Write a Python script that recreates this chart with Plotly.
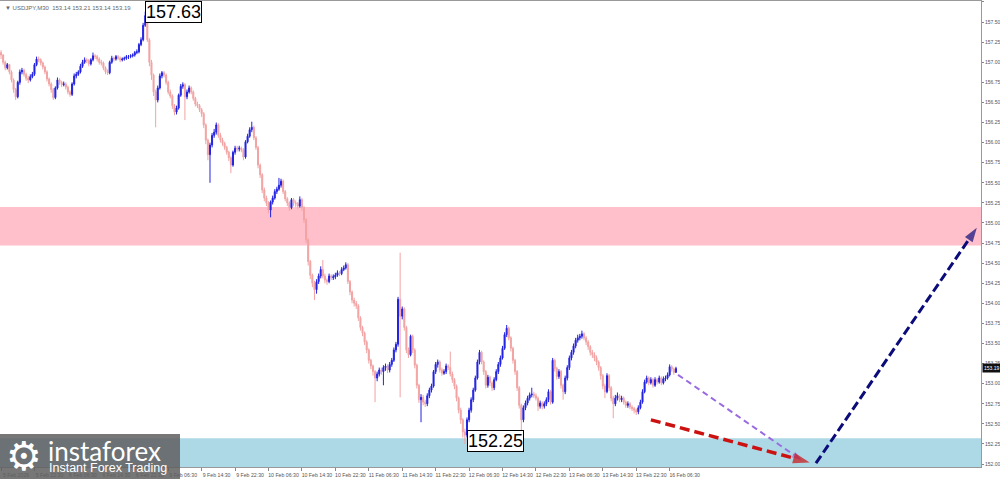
import plotly.graph_objects as go

# ---- data (USDJPY M30) ----
first_open = 157.12
close = [
    157.09, 157.00, 156.93, 156.97, 156.88, 156.78, 156.66, 156.57, 156.75, 156.88,
    156.90, 156.85, 156.80, 156.78, 156.82, 156.85, 156.97, 157.04, 157.03, 156.99,
    156.94, 156.88, 156.79, 156.73, 156.66, 156.56, 156.68, 156.78, 156.75, 156.72,
    156.73, 156.69, 156.63, 156.60, 156.73, 156.83, 156.85, 156.88, 156.95, 157.00,
    157.03, 157.02, 156.98, 157.03, 157.08, 157.07, 157.04, 157.00, 156.99, 156.93,
    156.88, 156.87, 157.00, 157.05, 157.04, 157.07, 157.05, 157.03, 157.04, 157.05,
    157.07, 157.07, 157.08, 157.09, 157.12, 157.13, 157.22, 157.28, 157.46, 157.58,
    157.28, 157.00, 156.84, 156.63, 156.53, 156.68, 156.83, 156.87, 156.84, 156.75,
    156.63, 156.58, 156.46, 156.38, 156.43, 156.59, 156.70, 156.72, 156.57, 156.63,
    156.68, 156.63, 156.55, 156.48, 156.46, 156.41, 156.36, 156.22, 156.03, 155.85,
    155.97, 156.09, 156.13, 156.22, 156.09, 156.03, 155.99, 155.94, 155.88, 155.81,
    155.72, 155.88, 155.93, 155.92, 155.93, 155.91, 155.82, 156.01, 156.08, 156.16,
    156.19, 156.06, 155.94, 155.72, 155.60, 155.41, 155.31, 155.25, 155.16, 155.26,
    155.31, 155.39, 155.42, 155.47, 155.52, 155.39, 155.30, 155.25, 155.19, 155.29,
    155.25, 155.24, 155.21, 155.29, 155.19, 155.04, 154.79, 154.52, 154.35, 154.25,
    154.17, 154.27, 154.34, 154.42, 154.34, 154.29, 154.27, 154.34, 154.32, 154.33,
    154.35, 154.38, 154.37, 154.42, 154.44, 154.48, 154.27, 154.14, 154.04, 154.00,
    153.97, 153.82, 153.70, 153.63, 153.52, 153.42, 153.29, 153.22, 153.15, 153.07,
    153.12, 153.17, 153.15, 153.20, 153.22, 153.17, 153.24, 153.29, 153.42, 153.49,
    154.05, 153.84, 153.93, 153.70, 153.42, 153.36, 153.59, 153.42, 153.23, 152.98,
    152.80, 152.83, 152.77, 152.75, 152.85, 152.92, 152.97, 153.15, 153.24, 153.27,
    153.17, 153.13, 153.15, 153.22, 153.20, 153.12, 153.05, 152.97, 152.82, 152.67,
    152.55, 152.40, 152.36, 152.55, 152.67, 152.80, 152.92, 153.07, 153.27, 153.39,
    153.27, 153.15, 152.98, 153.08, 153.01, 152.95, 153.05, 153.15, 153.24, 153.32,
    153.44, 153.61, 153.69, 153.57, 153.44, 153.29, 153.15, 152.95, 152.73, 152.55,
    152.70, 152.76, 152.82, 152.86, 152.87, 152.85, 152.82, 152.72, 152.76, 152.72,
    152.75, 152.80, 152.90, 152.77, 153.29, 153.19, 153.09, 153.15, 152.98, 152.90,
    153.07, 153.20, 153.32, 153.39, 153.47, 153.54, 153.57, 153.59, 153.62, 153.57,
    153.52, 153.46, 153.39, 153.36, 153.32, 153.27, 153.20, 153.10, 152.97, 152.90,
    153.10, 152.95, 152.82, 152.75, 152.82, 152.85, 152.80, 152.82, 152.77, 152.73,
    152.75, 152.71, 152.69, 152.67, 152.65, 152.70, 152.77, 152.90, 153.02, 153.07,
    153.01, 153.05, 152.98, 153.05, 153.02, 153.07, 153.01, 153.06, 153.07, 153.11,
    153.21, 153.18, 153.14, 153.19,
]
high = [
    157.15, 157.10, 157.02, 156.99, 156.98, 156.90, 156.80, 156.68, 156.77, 156.91,
    156.93, 156.92, 156.87, 156.83, 156.85, 156.88, 156.99, 157.07, 157.07, 157.05,
    157.01, 156.96, 156.90, 156.81, 156.75, 156.68, 156.70, 156.81, 156.80, 156.77,
    156.76, 156.75, 156.71, 156.65, 156.75, 156.86, 156.88, 156.90, 156.98, 157.03,
    157.06, 157.05, 157.04, 157.05, 157.12, 157.10, 157.09, 157.06, 157.03, 157.01,
    156.95, 156.91, 157.02, 157.08, 157.07, 157.09, 157.09, 157.07, 157.06, 157.07,
    157.09, 157.09, 157.10, 157.11, 157.14, 157.16, 157.24, 157.31, 157.49, 157.63,
    157.60, 157.30, 157.03, 156.86, 156.66, 156.71, 156.86, 156.89, 156.89, 156.86,
    156.77, 156.66, 156.60, 156.48, 156.46, 156.61, 156.73, 156.75, 156.74, 156.66,
    156.71, 156.70, 156.65, 156.57, 156.51, 156.48, 156.43, 156.38, 156.24, 156.05,
    156.00, 156.12, 156.17, 156.25, 156.24, 156.12, 156.06, 156.01, 155.96, 155.90,
    155.83, 155.90, 155.96, 155.96, 155.96, 155.95, 155.93, 156.03, 156.11, 156.19,
    156.26, 156.21, 156.08, 155.96, 155.74, 155.62, 155.44, 155.34, 155.27, 155.28,
    155.34, 155.42, 155.45, 155.56, 155.55, 155.54, 155.41, 155.32, 155.27, 155.31,
    155.31, 155.28, 155.26, 155.33, 155.31, 155.21, 155.06, 154.81, 154.54, 154.37,
    154.28, 154.30, 154.37, 154.46, 154.54, 154.37, 154.31, 154.37, 154.36, 154.36,
    154.38, 154.41, 154.40, 154.45, 154.47, 154.51, 154.50, 154.29, 154.16, 154.07,
    154.03, 153.99, 153.84, 153.72, 153.65, 153.54, 153.44, 153.31, 153.24, 153.17,
    153.15, 153.20, 153.20, 153.23, 153.25, 153.24, 153.27, 153.32, 153.45, 153.52,
    154.08, 154.63, 153.96, 153.95, 153.72, 153.45, 153.61, 153.61, 153.44, 153.25,
    153.00, 152.87, 152.86, 152.80, 152.88, 152.95, 153.00, 153.17, 153.27, 153.30,
    153.29, 153.20, 153.18, 153.25, 153.24, 153.40, 153.15, 153.07, 152.99, 152.84,
    152.70, 152.57, 152.44, 152.58, 152.70, 152.83, 152.95, 153.10, 153.30, 153.42,
    153.41, 153.29, 153.17, 153.11, 153.10, 153.03, 153.08, 153.18, 153.27, 153.35,
    153.47, 153.64, 153.73, 153.71, 153.59, 153.46, 153.31, 153.17, 152.97, 152.75,
    152.73, 152.79, 152.85, 152.89, 152.95, 152.90, 152.88, 152.84, 152.79, 152.78,
    152.78, 152.83, 152.93, 152.92, 153.32, 153.31, 153.21, 153.18, 153.17, 153.00,
    153.10, 153.23, 153.35, 153.42, 153.50, 153.57, 153.61, 153.62, 153.66, 153.64,
    153.59, 153.54, 153.48, 153.42, 153.39, 153.35, 153.29, 153.22, 153.12, 153.00,
    153.13, 153.12, 152.97, 152.85, 152.86, 152.89, 152.87, 152.85, 152.84, 152.79,
    152.78, 152.77, 152.73, 152.71, 152.69, 152.73, 152.80, 152.93, 153.05, 153.10,
    153.09, 153.08, 153.07, 153.08, 153.07, 153.10, 153.09, 153.09, 153.10, 153.14,
    153.24, 153.23, 153.20, 153.21,
]
low = [
    157.04, 156.97, 156.90, 156.91, 156.85, 156.75, 156.62, 156.53, 156.55, 156.72,
    156.85, 156.82, 156.77, 156.74, 156.76, 156.80, 156.83, 156.95, 157.00, 156.96,
    156.91, 156.85, 156.76, 156.70, 156.62, 156.53, 156.54, 156.66, 156.72, 156.69,
    156.70, 156.66, 156.60, 156.57, 156.58, 156.71, 156.80, 156.83, 156.86, 156.93,
    156.98, 156.99, 156.95, 156.96, 157.01, 157.04, 157.01, 156.97, 156.96, 156.90,
    156.85, 156.84, 156.85, 156.98, 157.01, 157.02, 157.03, 157.00, 157.01, 157.02,
    157.03, 157.04, 157.05, 157.06, 157.07, 157.10, 157.11, 157.20, 157.26, 157.44,
    157.25, 156.95, 156.78, 156.58, 156.19, 156.50, 156.66, 156.80, 156.81, 156.72,
    156.60, 156.55, 156.42, 156.34, 156.35, 156.41, 156.57, 156.67, 156.28, 156.54,
    156.61, 156.60, 156.52, 156.45, 156.43, 156.38, 156.32, 156.18, 155.98, 155.78,
    155.50, 155.94, 156.06, 156.10, 156.06, 156.00, 155.96, 155.91, 155.85, 155.77,
    155.62, 155.70, 155.85, 155.89, 155.89, 155.88, 155.78, 155.80, 155.99, 156.06,
    156.13, 156.03, 155.91, 155.68, 155.56, 155.37, 155.27, 155.21, 155.12, 155.07,
    155.23, 155.29, 155.36, 155.40, 155.44, 155.36, 155.27, 155.21, 155.15, 155.17,
    155.21, 155.20, 155.17, 155.19, 155.15, 155.00, 154.75, 154.47, 154.30, 154.20,
    154.04, 154.12, 154.24, 154.31, 154.31, 154.25, 154.23, 154.25, 154.29, 154.29,
    154.30, 154.33, 154.34, 154.35, 154.40, 154.42, 154.24, 154.10, 154.00, 153.96,
    153.93, 153.78, 153.66, 153.59, 153.48, 153.38, 153.25, 153.18, 153.10, 152.77,
    153.03, 153.09, 153.11, 152.98, 153.16, 153.13, 153.14, 153.21, 153.27, 153.39,
    153.46, 152.83, 153.80, 153.66, 153.38, 153.32, 153.34, 153.38, 153.19, 152.94,
    152.76, 152.52, 152.73, 152.71, 152.72, 152.82, 152.89, 152.95, 153.12, 153.20,
    153.14, 153.10, 153.11, 153.12, 153.17, 153.09, 153.01, 152.93, 152.78, 152.63,
    152.50, 152.33, 152.25, 152.33, 152.52, 152.64, 152.77, 152.90, 153.05, 153.24,
    153.24, 153.11, 152.94, 152.95, 152.97, 152.91, 152.92, 153.03, 153.12, 153.21,
    153.30, 153.42, 153.58, 153.54, 153.40, 153.25, 153.11, 152.91, 152.69, 152.42,
    152.52, 152.67, 152.73, 152.79, 152.83, 152.82, 152.79, 152.66, 152.69, 152.68,
    152.69, 152.72, 152.77, 152.74, 152.75, 153.15, 153.05, 153.06, 152.94, 152.80,
    152.87, 153.04, 153.17, 153.29, 153.36, 153.44, 153.51, 153.54, 153.56, 153.54,
    153.48, 153.42, 153.35, 153.32, 153.28, 153.23, 153.16, 153.05, 152.93, 152.82,
    152.88, 152.91, 152.78, 152.57, 152.72, 152.79, 152.77, 152.77, 152.74, 152.70,
    152.70, 152.68, 152.66, 152.63, 152.61, 152.62, 152.68, 152.75, 152.88, 153.00,
    152.98, 152.99, 152.95, 152.96, 152.99, 153.00, 152.98, 152.99, 153.03, 153.05,
    153.09, 153.15, 153.11, 153.14,
]
open_ = [first_open] + close[:-1]
bars = list(range(len(close)))

time_labels = [
    "5 Feb 2026", "5 Feb 22:30", "6 Feb 06:30", "6 Feb 14:30", "6 Feb 22:30",
    "9 Feb 06:30", "9 Feb 14:30", "9 Feb 22:30", "10 Feb 06:30", "10 Feb 14:30",
    "10 Feb 22:30", "11 Feb 06:30", "11 Feb 14:30", "11 Feb 22:30", "12 Feb 06:30",
    "12 Feb 14:30", "12 Feb 22:30", "13 Feb 06:30", "13 Feb 14:30", "13 Feb 22:30",
    "16 Feb 06:30",
]
bars_per_label = 16

# zones and forecast paths
resistance_zone = (154.72, 155.20)
support_zone = (151.90, 152.32)
alt_path_x, alt_path_y = [324, 383], [153.11, 152.05]
main_down_x, main_down_y = [311, 387], [152.55, 152.02]
main_up_x, main_up_y = [390, 467], [152.01, 154.94]

y_lo, y_hi = 151.963, 157.762
x_lo, x_hi = -0.5, 469

fig = go.Figure()

fig.add_shape(type="rect", xref="paper", x0=0, x1=1, y0=resistance_zone[0], y1=resistance_zone[1],
              fillcolor="#ffc0cb", line_width=0, layer="below")
fig.add_shape(type="rect", xref="paper", x0=0, x1=1, y0=support_zone[0], y1=support_zone[1],
              fillcolor="#add8e6", line_width=0, layer="below")

fig.add_trace(go.Candlestick(
    x=bars, open=open_, high=high, low=low, close=close,
    increasing=dict(line=dict(color="#2323e0", width=1), fillcolor="#2323e0"),
    decreasing=dict(line=dict(color="#f2a3a3", width=1), fillcolor="#f2a3a3"),
    whiskerwidth=0, showlegend=False, hoverinfo="skip",
))

def forecast(xs, ys, color, width, dash):
    fig.add_trace(go.Scatter(
        x=xs, y=ys, mode="lines+markers",
        line=dict(color=color, width=width, dash=dash),
        marker=dict(symbol=["circle", "arrow"], size=[0, 5 * width], color=color, angleref="previous",
                    line_width=0),
        showlegend=False, hoverinfo="skip", cliponaxis=False,
    ))

forecast(alt_path_x, alt_path_y, "#9a6be0", 2, "6px,4px")
forecast(main_down_x, main_down_y, "#cc1111", 3.5, "10px,5px")
forecast(main_up_x, main_up_y, "#0b0b7a", 3, "9px,4px")

# extreme labels
i_hi = high.index(max(high))
i_lo = low.index(min(low))
box_font = dict(family="Liberation Sans, Arial", size=18, color="black")
fig.add_annotation(x=i_hi, y=max(high), text=f"{max(high):.2f}", showarrow=False, xanchor="left",
                   yanchor="middle", xshift=0, yshift=0, font=box_font, bgcolor="white",
                   bordercolor="black", borderwidth=1, borderpad=0)
fig.add_annotation(x=i_lo, y=min(low), text=f"{min(low):.2f}", showarrow=False, xanchor="left",
                   yanchor="middle", xshift=2, yshift=3, font=box_font, bgcolor="white",
                   bordercolor="black", borderwidth=1, borderpad=0)

# current price tag
fig.add_annotation(xref="paper", x=1.0, y=close[-1], text=f"{close[-1]:.2f}", showarrow=False,
                   xanchor="left", yanchor="middle", font=dict(family="Liberation Sans", size=5, color="white"),
                   bgcolor="#111111", borderpad=1, xshift=1)

# header
fig.add_annotation(xref="paper", yref="paper", x=0.003, y=0.995, xanchor="left", yanchor="top",
                   text=f"▼ USDJPY,M30  {open_[-1]:.2f} {high[-1]:.2f} {low[-1]:.2f} {close[-1]:.2f}",
                   showarrow=False, font=dict(family="Liberation Sans", size=6, color="#666666"))

# logo
plot_h = 466
fig.add_shape(type="rect", xref="paper", yref="paper", x0=0, x1=180 / 981,
              y0=-12 / plot_h, y1=33 / plot_h, fillcolor="rgba(95,95,95,0.85)", line_width=0,
              layer="above")
fig.add_annotation(xref="paper", yref="paper", x=24 / 981, y=11 / plot_h, text="⚙",
                   xanchor="center", yanchor="middle", showarrow=False,
                   font=dict(family="DejaVu Sans", size=40, color="white"))
fig.add_annotation(xref="paper", yref="paper", x=46 / 981, y=16 / plot_h, text="instaforex",
                   xanchor="left", yanchor="middle", showarrow=False,
                   font=dict(family="Lato", size=26, color="white"))
fig.add_annotation(xref="paper", yref="paper", x=47 / 981, y=-1 / plot_h, text="Instant Forex Trading",
                   xanchor="left", yanchor="middle", showarrow=False,
                   font=dict(family="Liberation Sans", size=12.5, color="white"))

fig.update_layout(
    width=1000, height=479,
    margin=dict(l=0, r=19, t=1, b=12),
    paper_bgcolor="white", plot_bgcolor="white",
    showlegend=False,
    xaxis=dict(
        range=[x_lo, x_hi], rangeslider=dict(visible=False), showgrid=False, zeroline=False,
        tickvals=[i * bars_per_label for i in range(len(time_labels))], ticktext=time_labels,
        ticks="outside", ticklen=3, tickcolor="#888", ticklabelshift=15, tickangle=0,
        automargin=False, ticklabelstandoff=0,
        tickfont=dict(family="Liberation Sans", size=5.2, color="#555"),
        showline=True, linecolor="#999", linewidth=1, mirror=True,
    ),
    yaxis=dict(
        side="right", range=[y_lo, y_hi], dtick=0.25, tick0=152.0, tickformat=".2f",
        showgrid=False, zeroline=False, ticks="outside", ticklen=2, tickcolor="#888",
        automargin=False, ticklabelstandoff=0,
        tickfont=dict(family="Liberation Sans", size=5, color="#555"),
        showline=True, linecolor="#999", linewidth=1,
    ),
)

fig.write_html("out.html", config={"displayModeBar": False},
               post_script="document.body.style.margin='0';")
